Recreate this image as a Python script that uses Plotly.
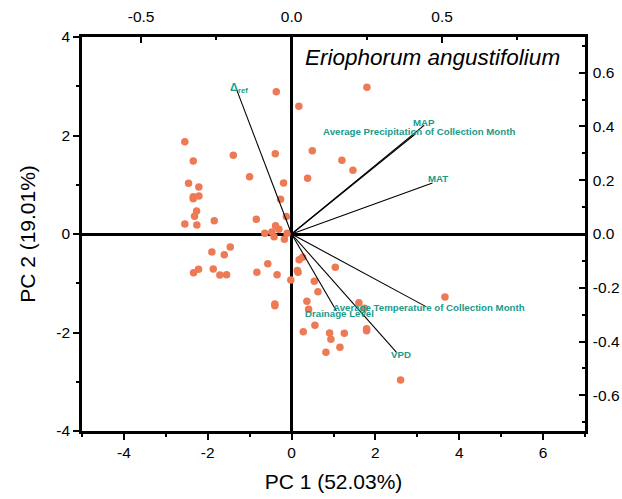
import plotly.graph_objects as go

# ---- Data ----
pc1 = [-0.365, 0.174, 1.797, -2.547, -2.346, -1.391, -0.389, 0.494, 1.200, 1.463,
       0.382, -1.002, -2.458, -2.212, -0.191, -2.346, -2.346, -2.212, -0.263, -2.267,
       -2.315, -0.126, -2.547, -2.260, -1.845, -0.842, -0.382, -0.303, -0.640, -0.470,
       -0.418, -0.107, -0.172, -1.463, -1.902, -1.606, -0.568, -2.220, -2.339, -1.869,
       -1.711, -1.551, -0.828, -0.346, -0.019, 0.181, 0.263, 0.138, 0.155, -0.399,
       -0.399, 1.043, 0.542, 0.628, 0.365, 0.406, 1.606, 1.742, 3.659, 0.556,
       0.279, 0.907, 1.790, 1.790, 1.258, 0.938, 1.153, 0.819, 2.601]
pc2 = [2.889, 2.593, 2.979, 1.874, 1.482, 1.598, 1.630, 1.691, 1.496, 1.293,
       1.131, 1.163, 1.029, 0.954, 1.036, 0.757, 0.717, 0.772, 0.705, 0.467,
       0.359, 0.355, 0.203, 0.183, 0.270, 0.298, 0.166, 0.095, 0.014, 0.041,
       -0.055, 0.014, -0.106, -0.264, -0.365, -0.420, -0.603, -0.717, -0.786, -0.711,
       -0.832, -0.826, -0.776, -0.828, -0.934, -0.522, -0.473, -0.741, -0.776, -1.421,
       -1.456, -0.676, -0.960, -1.172, -1.367, -1.529, -1.395, -1.509, -1.279, -1.854,
       -1.984, -2.010, -1.923, -1.963, -2.016, -2.138, -2.301, -2.402, -2.964]

var_names = ["Δ<sub>ref</sub>", "MAP", "Average Precipitation of Collection Month", "MAT",
             "Average Temperature of Collection Month", "Drainage Level", "VPD"]
load1 = [-0.182, 0.441, 0.411, 0.468, 0.448, 0.149, 0.348]
load2 = [0.535, 0.405, 0.372, 0.190, -0.271, -0.286, -0.439]

x_ticks = [-4, -2, 0, 2, 4, 6]
x_ticktext = ["-4", "-2", "0", "2", "4", "6"]
y_ticks = [-4, -2, 0, 2, 4]
y_ticktext = ["-4", "-2", "0", "2", "4"]
x2_ticks = [-0.5, 0.0, 0.5]
x2_ticktext = ["-0.5", "0.0", "0.5"]
y2_ticks = [-0.6, -0.4, -0.2, 0.0, 0.2, 0.4, 0.6]
y2_ticktext = ["-0.6", "-0.4", "-0.2", "0.0", "0.2", "0.4", "0.6"]

title_text = "Eriophorum angustifolium"

# ---- Style ----
FONT = "Liberation Sans, Arial, sans-serif"
PT_COLOR = "#EE7A55"
LBL_COLOR = "#1A9A8A"
xk = 7.18   # scale between bottom and top axes
yk = 5.46   # scale between left and right axes

fig = go.Figure()

# loading lines
for a, b in zip(load1, load2):
    fig.add_trace(go.Scatter(x=[0, a], y=[0, b], mode="lines",
                             line=dict(color="black", width=1.1),
                             xaxis="x2", yaxis="y2", showlegend=False, hoverinfo="skip"))

# scores
fig.add_trace(go.Scatter(x=pc1, y=pc2, mode="markers",
                         marker=dict(color=PT_COLOR, size=7.5, line=dict(width=0)),
                         showlegend=False))

# variable labels
shifts = [(2, 2), (0, 3), (4, 2), (6, 4), (3, -1), (3, -3), (5, -2)]
sizes = [11, 9.7, 9.7, 9.7, 9.7, 9.7, 9.7]
for name, a, b, (dx, dy), s in zip(var_names, load1, load2, shifts, sizes):
    fig.add_annotation(x=a, y=b, xref="x2", yref="y2", text=name, showarrow=False,
                       xshift=dx, yshift=dy,
                       font=dict(family=FONT, size=s, color=LBL_COLOR, weight="bold"))

fig.add_annotation(x=0.954, y=0.985, xref="paper", yref="paper", text=f"<i>{title_text}</i>",
                   showarrow=False, xanchor="right", yanchor="top",
                   font=dict(family=FONT, size=22.5, color="black"))

axis_common = dict(showgrid=False, showline=True, linecolor="black", linewidth=2.5,
                   automargin=False,
                   tickcolor="black", tickwidth=2, tickfont=dict(family=FONT, size=15.5, color="black"))

fig.update_layout(
    width=622, height=499,
    margin=dict(l=82, r=37, t=37, b=68, autoexpand=False),
    paper_bgcolor="white", plot_bgcolor="white",
    xaxis=dict(range=[-5, 7], tickvals=x_ticks, ticktext=x_ticktext, ticks="outside", ticklen=6,
               minor=dict(dtick=1, ticks="outside", ticklen=3, tickwidth=2, tickcolor="black"),
               zeroline=True, zerolinecolor="black", zerolinewidth=2.5,
               title=dict(text="PC 1 (52.03%)", font=dict(family=FONT, size=21, color="black"), standoff=14),
               **axis_common),
    yaxis=dict(range=[-4, 4], tickvals=y_ticks, ticktext=y_ticktext, ticks="outside", ticklen=6,
               minor=dict(dtick=1, ticks="outside", ticklen=3, tickwidth=2, tickcolor="black"),
               zeroline=True, zerolinecolor="black", zerolinewidth=2.5,
               title=dict(text="PC 2 (19.01%)", font=dict(family=FONT, size=21, color="black"), standoff=16),
               **axis_common),
    xaxis2=dict(range=[-5 / xk, 7 / xk], overlaying="x", side="top", anchor="y",
                tickvals=x2_ticks, ticktext=x2_ticktext, ticks="inside", ticklen=6,
                ticklabelstandoff=6,
                minor=dict(dtick=0.25, ticks="inside", ticklen=3, tickwidth=2, tickcolor="black"),
                zeroline=False, **axis_common),
    yaxis2=dict(range=[-4 / yk, 4 / yk], overlaying="y", side="right", anchor="x",
                tickvals=y2_ticks, ticktext=y2_ticktext, ticks="inside", ticklen=6,
                ticklabelstandoff=2,
                minor=dict(dtick=0.1, ticks="inside", ticklen=3, tickwidth=2, tickcolor="black"),
                zeroline=False, **axis_common),
)

fig.write_html("out.html")
